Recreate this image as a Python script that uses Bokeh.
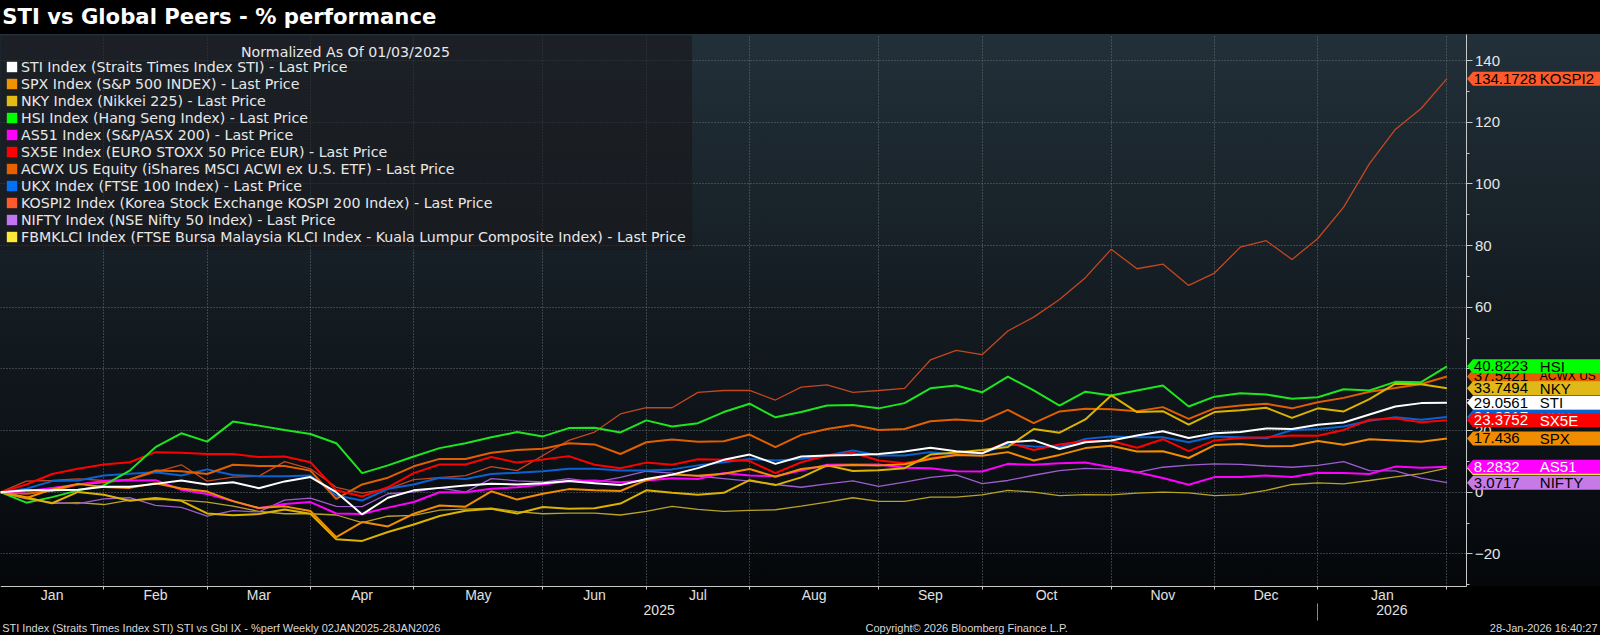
import datetime as dt
from bokeh.plotting import figure
from bokeh.models import (Range1d, LinearAxis, FixedTicker, SingleIntervalTicker,
                          Legend, LegendItem, Label, Grid, BoxAnnotation)
from bokeh.embed import file_html
from bokeh.resources import INLINE
from bokeh.core.properties import value

# ---------------- data ----------------
START = dt.date(2025, 1, 3)
N_WEEKS = 57
dates = [START + dt.timedelta(weeks=i) for i in range(N_WEEKS)]
xidx = list(range(N_WEEKS))

month_labels = ["Jan", "Feb", "Mar", "Apr", "May", "Jun", "Jul", "Aug",
                "Sep", "Oct", "Nov", "Dec", "Jan"]
year_labels = ["2025", "2026"]

sti = [0, 0.6, 0.6, 0.8, 1.8, 1.8, 2.7, 3.8, 2.5, 3.2,
       1.3, 3.5, 4.9, 0.0, -7.2, -1.8, 0.6, 1.4, 2.2, 2.7,
       2.5, 2.9, 3.6, 2.9, 2.3, 4.3, 5.7, 7.8, 10.5, 12.2,
       9.2, 11.6, 11.9, 12.1, 12.4, 13.2, 14.4, 13.3, 12.6, 16.2,
       16.8, 14.0, 16.2, 16.8, 18.4, 19.8, 17.6, 19.1, 19.5, 20.7,
       20.5, 21.9, 22.6, 25.2, 27.8, 28.9, 29.0561]
spx = [0, -1.9, 0.9, 2.7, 1.7, 1.4, 2.9, 1.2, 0.2, -2.9,
       -5.1, -4.6, -6.1, -14.6, -9.7, -11.1, -7.0, -4.3, -4.7, 0.3,
       -2.4, -0.5, 1.0, 0.6, 0.4, 3.9, 5.7, 5.3, 6.0, 7.5,
       5.0, 7.5, 8.5, 8.8, 8.7, 9.1, 10.8, 12.1, 11.8, 13.0,
       10.3, 12.1, 14.3, 15.1, 13.2, 13.3, 11.1, 15.3, 15.6, 14.9,
       15.0, 16.6, 15.4, 17.2, 16.8, 16.4, 17.436]
nky = [0, -1.8, -3.6, 0.1, -0.8, -2.8, -1.9, -2.8, -6.9, -7.5,
       -7.1, -5.6, -7.0, -15.3, -15.8, -12.9, -10.5, -7.7, -6.0, -5.4,
       -6.9, -4.8, -5.4, -5.2, -3.7, 0.6, -0.2, -0.8, -0.2, 3.9,
       2.3, 4.8, 8.7, 6.9, 7.1, 7.8, 12.2, 12.9, 13.7, 14.7,
       20.5, 19.3, 23.6, 31.4, 26.0, 26.3, 21.9, 26.0, 26.6, 27.4,
       24.1, 27.2, 26.2, 30.2, 35.2, 35.0, 33.7494]
hsi = [0, -3.4, -1.6, 0.6, 2.2, 7.0, 14.6, 19.1, 16.4, 22.9,
       21.6, 20.2, 18.9, 15.9, 6.2, 8.7, 11.6, 14.3, 15.9, 17.8,
       19.5, 18.1, 20.8, 20.9, 19.4, 23.3, 21.3, 22.4, 26.0, 28.7,
       24.3, 26.0, 28.1, 28.3, 27.2, 28.9, 33.7, 34.6, 32.4, 37.5,
       33.0, 28.1, 32.6, 31.4, 33.0, 34.6, 27.8, 31.0, 32.1, 31.7,
       30.3, 30.8, 33.4, 33.0, 35.8, 35.7, 40.8223]
as51 = [0, 0.3, 1.4, 2.5, 3.6, 3.8, 3.9, 0.8, -0.6, -2.9,
        -5.2, -3.8, -3.2, -6.9, -7.1, -5.0, -3.2, 0.0, 0.0, 1.1,
        1.6, 2.5, 3.6, 3.8, 3.2, 3.8, 4.5, 4.3, 6.2, 5.4,
        5.2, 7.0, 8.9, 9.0, 9.0, 7.9, 7.8, 6.8, 6.7, 9.2,
        8.9, 9.4, 9.6, 8.1, 6.5, 4.6, 2.4, 4.9, 4.9, 5.4,
        4.9, 6.3, 6.2, 5.9, 8.3, 7.9, 8.2832]
sx5e = [0, 2.5, 5.9, 7.6, 9.0, 9.7, 13.0, 12.8, 12.4, 12.4,
        11.4, 11.6, 9.7, 0.6, -1.4, 1.6, 6.2, 9.0, 9.0, 11.4,
        9.6, 10.6, 11.7, 8.9, 7.8, 9.6, 8.9, 10.7, 10.5, 10.1,
        6.2, 9.7, 11.9, 12.8, 10.3, 9.4, 11.1, 12.1, 13.0, 16.2,
        13.7, 15.5, 16.6, 16.6, 14.4, 17.2, 13.3, 16.8, 17.6, 17.8,
        18.4, 18.3, 20.2, 23.5, 23.9, 22.7, 23.3752]
acwx = [0, -0.5, 0.5, 2.5, 3.2, 4.1, 7.0, 6.8, 5.9, 8.9,
        8.5, 8.5, 7.0, -2.2, 2.5, 4.7, 8.4, 10.8, 10.8, 12.8,
        13.7, 14.1, 15.9, 15.5, 12.4, 16.2, 17.1, 16.4, 16.5, 18.7,
        14.6, 18.6, 20.5, 21.8, 20.2, 20.5, 23.0, 23.6, 23.0, 26.7,
        22.4, 26.2, 27.1, 26.9, 26.3, 27.6, 23.8, 27.2, 28.1, 28.7,
        27.2, 29.2, 30.6, 32.6, 33.8, 35.1, 37.5421]
ukx = [0, 1.1, 3.6, 3.8, 5.4, 6.0, 6.5, 5.4, 7.4, 5.6,
       5.2, 5.2, 5.4, -1.1, -2.7, 1.1, 2.5, 4.7, 4.3, 5.9,
       6.3, 6.8, 7.6, 7.6, 7.0, 7.0, 7.4, 8.7, 9.7, 10.8,
       10.3, 10.8, 11.9, 13.5, 11.9, 11.9, 13.0, 12.2, 12.6, 15.5,
       14.8, 14.6, 17.3, 18.1, 17.8, 17.8, 16.2, 18.1, 17.8, 17.5,
       20.2, 20.5, 21.3, 23.2, 24.3, 23.5, 24.3917]
kospi2 = [0, 3.6, 3.8, 4.3, 3.8, 4.0, 6.5, 8.9, 3.6, 4.9,
          5.2, 9.9, 7.6, 1.6, -0.3, 1.1, 4.1, 4.7, 5.4, 8.3,
          7.0, 11.9, 16.8, 19.5, 25.4, 27.4, 27.4, 32.4, 33.0, 33.0,
          29.9, 34.1, 34.8, 32.4, 33.0, 33.7, 42.9, 46.0, 44.6, 52.3,
          56.8, 62.5, 69.6, 78.8, 72.5, 74.0, 67.1, 71.1, 79.5, 81.6,
          75.5, 82.3, 92.5, 106.6, 117.7, 124.5, 134.1728]
nifty = [0, -2.2, -3.4, -3.7, -2.2, -1.8, -4.3, -4.9, -7.8, -6.0,
         -6.4, -2.6, -1.9, -4.6, -4.7, -0.5, 0.1, 1.4, 0.0, 4.4,
         3.7, 3.3, 4.4, 3.3, 4.8, 6.8, 6.2, 5.2, 4.4, 3.6,
         2.5, 1.6, 2.7, 3.7, 1.9, 3.3, 4.8, 5.6, 2.8, 3.8,
         5.5, 7.0, 7.7, 7.4, 6.4, 8.1, 8.8, 9.2, 9.0, 8.5,
         8.1, 8.7, 9.9, 7.0, 6.9, 4.6, 3.0717]
fbmklci = [0, -1.5, -3.6, -3.4, -4.0, -2.6, -2.3, -2.6, -3.2, -4.5,
           -6.2, -7.0, -7.0, -7.4, -9.9, -7.8, -7.5, -5.8, -5.5, -5.2,
           -6.3, -7.0, -6.8, -6.8, -7.4, -6.2, -4.6, -5.6, -6.2, -5.9,
           -5.7, -4.5, -3.2, -1.8, -3.0, -3.0, -1.6, -1.6, -0.9, 0.6,
           0.0, -1.1, -0.8, -0.9, -0.3, 0.0, -0.2, -1.1, -0.8, 0.6,
           2.5, 3.0, 2.7, 3.8, 5.0, 6.0, 7.8]

legend_labels = [
    "STI Index (Straits Times Index STI) - Last Price",
    "SPX Index (S&P 500 INDEX) - Last Price",
    "NKY Index (Nikkei 225) - Last Price",
    "HSI Index (Hang Seng Index) - Last Price",
    "AS51 Index (S&P/ASX 200) - Last Price",
    "SX5E Index (EURO STOXX 50 Price EUR) - Last Price",
    "ACWX US Equity (iShares MSCI ACWI ex U.S. ETF) - Last Price",
    "UKX Index (FTSE 100 Index) - Last Price",
    "KOSPI2 Index (Korea Stock Exchange KOSPI 200 Index) - Last Price",
    "NIFTY Index (NSE Nifty 50 Index) - Last Price",
    "FBMKLCI Index (FTSE Bursa Malaysia KLCI Index - Kuala Lumpur Composite Index) - Last Price",
]
tag_names = ["STI", "SPX", "NKY", "HSI", "AS51", "SX5E", "ACWX US", "UKX",
             "KOSPI2", "NIFTY", "FBMKLCI"]
series = [sti, spx, nky, hsi, as51, sx5e, acwx, ukx, kospi2, nifty, fbmklci]

title_text = "STI vs Global Peers - % performance"
legend_title = "Normalized As Of 01/03/2025"
footer_left = "STI Index (Straits Times Index STI) STI vs Gbl IX - %perf Weekly 02JAN2025-28JAN2026"
footer_mid = "Copyright\u00a9 2026 Bloomberg Finance L.P."
footer_right = "28-Jan-2026 16:40:27"

# ---------------- styles ----------------
line_colors = ["#ffffff", "#f28c00", "#dcb400", "#1ee61e", "#ff00ff", "#ff0000",
               "#e25f00", "#0a62d2", "#c4471f", "#9d5dcf", "#b9a326"]
line_widths = [2, 2, 2, 2, 2, 2, 2, 2, 1.3, 1.3, 1.3]
legend_colors = ["#ffffff", "#f39200", "#e3bb12", "#00ff00", "#ff00ff", "#ff0000",
                 "#e86100", "#0072f5", "#ff5a2c", "#c274f2", "#ffe838"]
tag_colors = ["#ffffff", "#f08c00", "#e0b818", "#00ff00", "#ff00ff", "#ff0000",
              "#e25f00", "#0a62d2", "#ff5a2c", "#c57ae8", "#ffe838"]
tag_text_colors = ["#000000", "#000000", "#000000", "#000000", "#ffffff", "#ffffff",
                   "#000000", "#ffffff", "#000000", "#000000", "#000000"]
tag_name_sizes = ["15px"] * 6 + ["12px", "15px", "15px", "15px", "12px"]
tag_order = [7, 10, 9, 6, 3, 2, 0, 5, 1, 4, 8]

FONT = "Liberation Sans"
LFONT = "DejaVu Sans"

# ---------------- geometry (canvas pixels) ----------------
W, H = 1600, 635
PX = 25.83                      # pixels per week
X_END = W / PX
AX_X = 1465.5 / PX              # value axis location
PLOT_TOP, PLOT_BOT = 34.3, 585.7
Y0, Y1 = -30.5, 148.4           # visible value range of the chart area
PY = (PLOT_BOT - PLOT_TOP) / (Y1 - Y0)
Y_TOP = Y1 + PLOT_TOP / PY
Y_BOTTOM = Y1 - (H - PLOT_TOP) / PY


def vy(py):
    """value at canvas pixel row py (from top)"""
    return Y_TOP - py / PY


def vx(px):
    return px / PX


# month boundaries (last weekly point of each month) and label centres
bounds_idx = [i for i in range(N_WEEKS - 1) if dates[i + 1].month != dates[i].month]
bounds_idx.append(N_WEEKS - 1)
starts = [0] + bounds_idx[:-1]
month_centers = [(s + e) / 2 for s, e in zip(starts, bounds_idx)]
year_split = [i for i in range(N_WEEKS - 1) if dates[i + 1].year != dates[i].year][0]
year_centers = [year_split / 2, (year_split + AX_X) / 2]

grad = ("linear-gradient(180deg, #000000 0px, #000000 %.1fpx, #223039 %.1fpx, "
        "#05070a %.1fpx, #000000 %.1fpx, #000000 100%%)"
        % (PLOT_TOP, PLOT_TOP, PLOT_BOT, PLOT_BOT))

p = figure(width=W, height=H, x_range=Range1d(0, X_END), y_range=Range1d(Y_BOTTOM, Y_TOP),
           x_axis_type=None, y_axis_type=None, output_backend="svg",
           toolbar_location=None, title=None, min_border=0,
           min_border_left=0, min_border_right=0, min_border_top=0, min_border_bottom=0,
           background_fill_color=None, border_fill_color=None,
           outline_line_color=None, styles={"background": grad})

# grids
xgrid = Grid(dimension=0, ticker=FixedTicker(ticks=bounds_idx), cross_bounds=(Y0, Y1),
             grid_line_color="#687075", grid_line_dash="1 2", grid_line_width=1)
ygrid = Grid(dimension=1, ticker=SingleIntervalTicker(interval=20), bounds=(Y0, Y1),
             cross_bounds=(0, AX_X),
             grid_line_color="#687075", grid_line_dash="1 2", grid_line_width=1)
p.add_layout(xgrid)
p.add_layout(ygrid)

# value axis
yax = LinearAxis(ticker=SingleIntervalTicker(interval=20, num_minor_ticks=2),
                 fixed_location=AX_X, bounds=(Y0, Y1),
                 axis_line_color="#c8c8c8", major_tick_line_color="#c8c8c8",
                 minor_tick_line_color="#c8c8c8", major_tick_in=0, major_tick_out=6,
                 minor_tick_in=0, minor_tick_out=3, major_label_standoff=3,
                 major_label_text_color="#e6e6e6", major_label_text_font=FONT,
                 major_label_text_font_size="15px")
p.add_layout(yax, "right")

# month axis
mx = LinearAxis(ticker=FixedTicker(ticks=month_centers, minor_ticks=bounds_idx),
                major_label_overrides={c: m for c, m in zip(month_centers, month_labels)},
                fixed_location=Y0, bounds=(0, AX_X),
                axis_line_color="#c8c8c8", axis_line_width=1,
                major_tick_line_color=None, major_tick_in=0, major_tick_out=0,
                minor_tick_line_color="#c8c8c8", minor_tick_in=0, minor_tick_out=3,
                major_label_standoff=-2, major_label_text_color="#e0e0e0",
                major_label_text_font=FONT, major_label_text_font_size="14px")
p.add_layout(mx, "below")

# year axis
yx = LinearAxis(ticker=FixedTicker(ticks=year_centers, minor_ticks=[year_split]),
                major_label_overrides={c: y for c, y in zip(year_centers, year_labels)},
                fixed_location=vy(PLOT_BOT + 17.4), bounds=(0, AX_X), axis_line_color=None,
                major_tick_line_color=None, major_tick_in=0, major_tick_out=0,
                minor_tick_line_color="#8a8a8a", minor_tick_in=0, minor_tick_out=17,
                major_label_standoff=-16, major_label_text_color="#e0e0e0",
                major_label_text_font=FONT, major_label_text_font_size="14px")
p.add_layout(yx, "below")

# series lines (first series on top)
for k in reversed(range(len(series))):
    p.line(xidx, series[k], line_color=line_colors[k], line_width=line_widths[k])

# legend box + legend
p.add_layout(BoxAnnotation(left=0, right=vx(691), top=vy(35.5), bottom=vy(249),
                           fill_color="#19171a", fill_alpha=0.6,
                           line_color="#101214", line_width=1))
nan = float("nan")
items = []
for k in range(len(series)):
    r = p.quad(left=[nan], right=[nan], top=[nan], bottom=[nan],
               fill_color=legend_colors[k], line_color=None)
    items.append(LegendItem(label=legend_labels[k], renderers=[r]))
LEG_BOTTOM = 245.0
legend = Legend(items=items, location=(5, H - LEG_BOTTOM), margin=0, padding=6, spacing=0,
                glyph_width=13, glyph_height=13, label_height=17, label_standoff=3,
                label_text_font=LFONT, label_text_font_size="14.2px",
                label_text_color="#e8e8e8", background_fill_alpha=0,
                border_line_color=None)
p.add_layout(legend)
p.add_layout(Label(x=vx(345), y=vy(51.5), text=legend_title,
                   text_align="center", text_baseline="middle", text_color="#e8e8e8",
                   text_font=LFONT, text_font_size="14.2px", level="overlay"))

# last-value tags
half = 7.0 / PY
for k in tag_order:
    v = series[k][-1]
    xs = [AX_X + 1 / PX, AX_X + 7 / PX, X_END, X_END, AX_X + 7 / PX]
    ys = [v, v + half, v + half, v - half, v - half]
    p.patch(xs, ys, fill_color=tag_colors[k], line_color=None, level="overlay")
    txt = ("%.4f" % v).rstrip("0").rstrip(".")
    p.text(x=[vx(1473.3)], y=[v], text=[txt], text_color=tag_text_colors[k],
           text_baseline="middle", text_align="left", text_font=value(FONT),
           text_font_size="15px", level="overlay")
    p.text(x=[vx(1539.3)], y=[v], text=[tag_names[k]], text_color=tag_text_colors[k],
           text_baseline="middle", text_align="left", text_font=value(FONT),
           text_font_size=tag_name_sizes[k], level="overlay")

# title and footer
p.text(x=[vx(1.7)], y=[vy(16.3)], text=[title_text], text_color="#ffffff",
       text_font=value(LFONT), text_font_style="bold", text_font_size="21.2px",
       text_baseline="middle", text_align="left", level="overlay")
p.text(x=[vx(1.7), vx(865)], y=[vy(627)] * 2, text=[footer_left, footer_mid],
       text_color="#d8d8d8", text_baseline="middle", text_align="left",
       text_font=value(FONT), text_font_size="11px", level="overlay")
p.text(x=[vx(1597)], y=[vy(627)], text=[footer_right], text_color="#d8d8d8",
       text_baseline="middle", text_align="right", text_font=value(FONT),
       text_font_size="11px", level="overlay")

open("out.html", "w").write(file_html(p, INLINE))
